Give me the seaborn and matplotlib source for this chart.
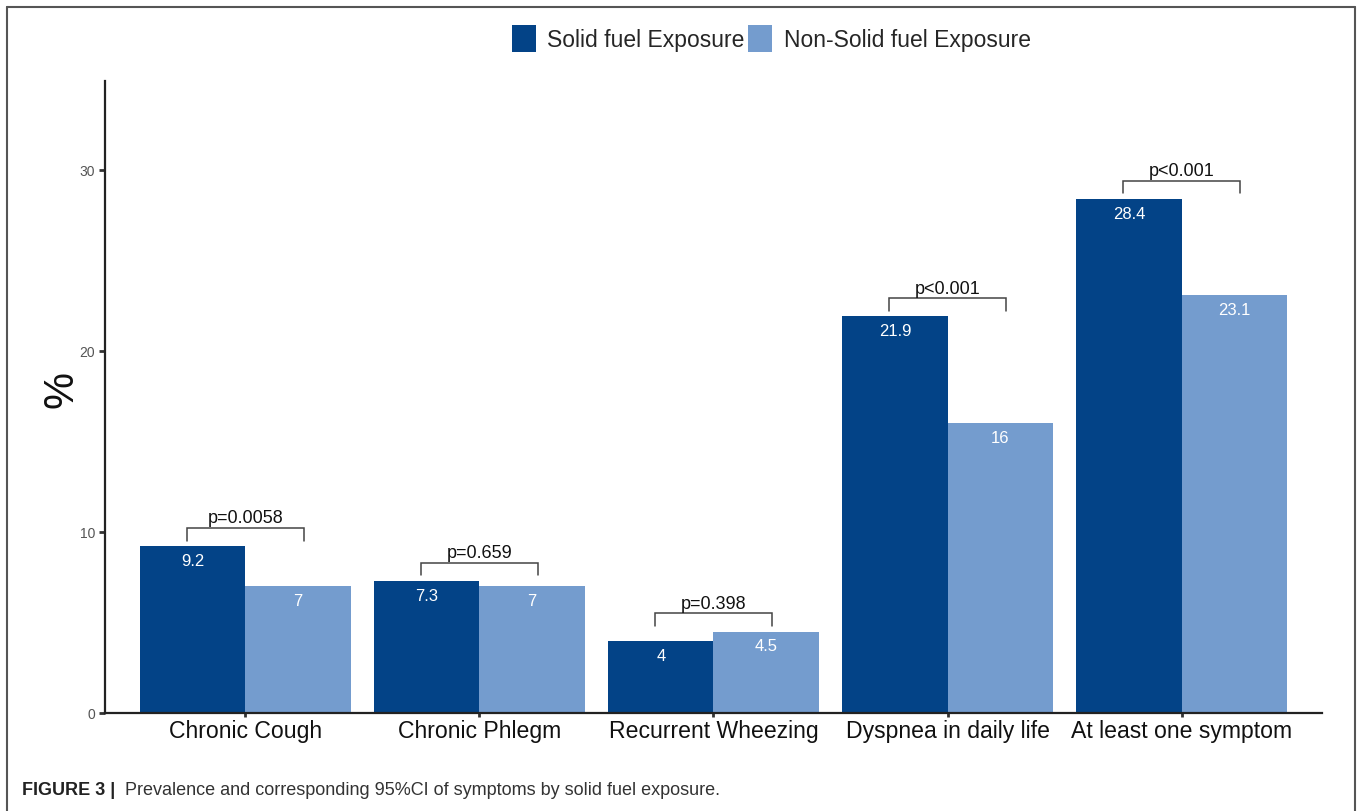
import matplotlib
matplotlib.use("Agg")
import matplotlib.pyplot as plt
from matplotlib.lines import Line2D
from matplotlib.patches import Patch
import seaborn as sns
import pandas as pd

# Data
symptoms = ["Chronic Cough", "Chronic Phlegm", "Recurrent Wheezing",
            "Dyspnea in daily life", "At least one symptom"]
solid_fuel = [9.2, 7.3, 4.0, 21.9, 28.4]
non_solid_fuel = [7.0, 7.0, 4.5, 16.0, 23.1]
value_labels_solid = ["9.2", "7.3", "4", "21.9", "28.4"]
value_labels_non = ["7", "7", "4.5", "16", "23.1"]
p_values = ["p=0.0058", "p=0.659", "p=0.398", "p<0.001", "p<0.001"]
groups = ["Solid fuel Exposure", "Non-Solid fuel Exposure"]
y_ticks = [0, 10, 20, 30]

dark_blue = "#034387"
light_blue = "#749CCE"

sns.set_theme(style="white")
plt.rcParams["font.family"] = ["Liberation Sans", "DejaVu Sans"]

df = pd.DataFrame({
    "symptom": symptoms * 2,
    "value": solid_fuel + non_solid_fuel,
    "group": [groups[0]] * len(symptoms) + [groups[1]] * len(symptoms),
})

fig = plt.figure(figsize=(13.58, 8.12), dpi=100)
ax = fig.add_axes([0.0773, 0.1207, 0.8962, 0.7783])

sns.barplot(data=df, x="symptom", y="value", hue="group", order=symptoms,
            hue_order=groups, palette=[dark_blue, light_blue], width=0.9,
            saturation=1, linewidth=0, ax=ax, legend=False)

ax.set_xlim(-0.6, 4.6)
ax.set_ylim(0, 34.9)
ax.set_yticks(y_ticks)
ax.set_yticklabels([str(t) for t in y_ticks], fontsize=10, color="#555555")
ax.tick_params(axis="y", length=4, width=2, color="#333333", pad=3, left=True)
ax.tick_params(axis="x", length=3, width=2, color="#333333", pad=1, bottom=True,
               labelsize=16.6, labelcolor="#111111")
ax.set_xlabel("")
ax.set_ylabel("")
sns.despine(ax=ax)
for side in ("left", "bottom"):
    ax.spines[side].set_color("#222222")
    ax.spines[side].set_linewidth(1.6)

# Value labels inside bars
half = 0.225
for i in range(len(symptoms)):
    ax.text(i - half, solid_fuel[i] - 0.8, value_labels_solid[i], ha="center",
            va="center", color="white", fontsize=12)
    ax.text(i + half, non_solid_fuel[i] - 0.8, value_labels_non[i], ha="center",
            va="center", color="white", fontsize=12)

# Significance brackets
for i in range(len(symptoms)):
    top = max(solid_fuel[i], non_solid_fuel[i]) + 1.0
    x0, x1 = i - 0.25, i + 0.25
    ax.plot([x0, x0, x1, x1], [top - 0.7, top, top, top - 0.7],
            color="#444444", linewidth=1.1, solid_joinstyle="miter")
    ax.text(i, top + 0.1, p_values[i], ha="center", va="bottom",
            fontsize=13, color="#111111")

# Axis title
fig.text(0.045, 0.52, "%", rotation=90, ha="center", va="center",
         fontsize=30, color="#111111")

# Legend
handles = [Patch(facecolor=dark_blue, edgecolor="none"),
           Patch(facecolor=light_blue, edgecolor="none")]
fig.legend(handles, groups, loc="center", bbox_to_anchor=(0.568, 0.951),
           ncol=2, frameon=False, fontsize=16.5, handlelength=1.05,
           handleheight=1.45, handletextpad=0.5, columnspacing=0.15,
           borderaxespad=0)

# Caption
fig.text(0.016, 0.027, "FIGURE 3 |", fontsize=13, fontweight="bold",
         color="#222222", ha="left", va="center")
fig.text(0.092, 0.027,
         "Prevalence and corresponding 95%CI of symptoms by solid fuel exposure.",
         fontsize=13, color="#333333", ha="left", va="center")

# Frame around the figure (open at the bottom)
frame_color = "#555555"
fig.add_artist(Line2D([0.0052, 0.0052], [0.0, 0.99], transform=fig.transFigure,
                      color=frame_color, linewidth=1.5))
fig.add_artist(Line2D([0.0052, 0.9975], [0.99, 0.99], transform=fig.transFigure,
                      color=frame_color, linewidth=1.5))
fig.add_artist(Line2D([0.9975, 0.9975], [0.0, 0.99], transform=fig.transFigure,
                      color=frame_color, linewidth=1.5))

fig.savefig("out.png", dpi=100)
